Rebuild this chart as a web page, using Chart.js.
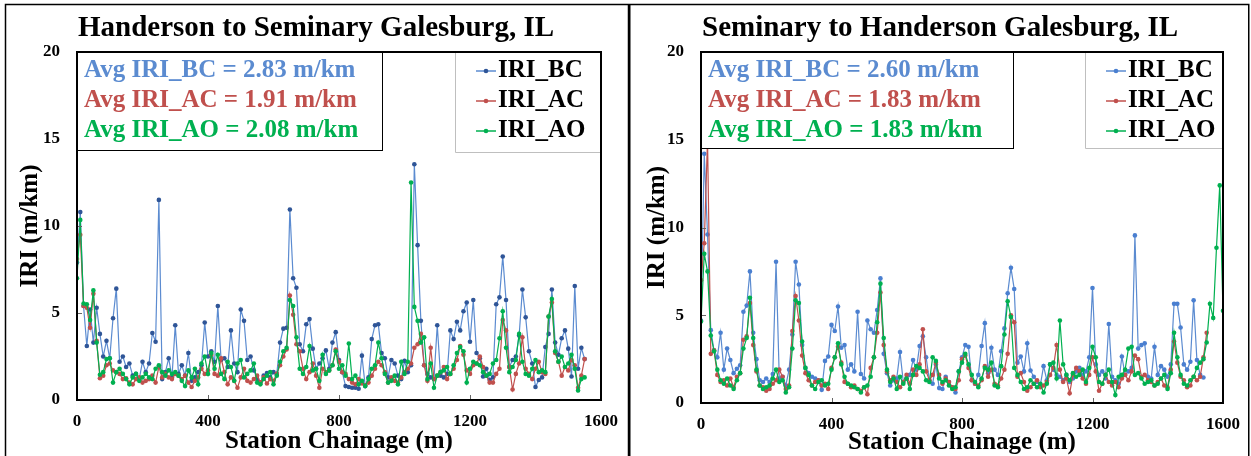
<!DOCTYPE html>
<html lang="en">
<head>
<meta charset="UTF-8">
<title>IRI Galesburg</title>
<script src="https://cdn.jsdelivr.net/npm/chart.js"></script>
<style>
  body { margin: 0; background: #fff; }
  .panel { position: absolute; top: 0; }
</style>
</head>
<body>
<div class="panel" style="left:0"><canvas id="chartA" width="629" height="456"></canvas></div>
<div class="panel" style="left:629px"><canvas id="chartB" width="622" height="456"></canvas></div>
<script>
// station chainage (m)
const chainage = [
  0, 10, 20, 30, 40, 50, 60, 70, 80, 90,
  100, 110, 120, 130, 140, 150, 160, 170, 180, 190,
  200, 210, 220, 230, 240, 250, 260, 270, 280, 290,
  300, 310, 320, 330, 340, 350, 360, 370, 380, 390,
  400, 410, 420, 430, 440, 450, 460, 470, 480, 490,
  500, 510, 520, 530, 540, 550, 560, 570, 580, 590,
  600, 610, 620, 630, 640, 650, 660, 670, 680, 690,
  700, 710, 720, 730, 740, 750, 760, 770, 780, 790,
  800, 810, 820, 830, 840, 850, 860, 870, 880, 890,
  900, 910, 920, 930, 940, 950, 960, 970, 980, 990,
  1000, 1010, 1020, 1030, 1040, 1050, 1060, 1070, 1080, 1090,
  1100, 1110, 1120, 1130, 1140, 1150, 1160, 1170, 1180, 1190,
  1200, 1210, 1220, 1230, 1240, 1250, 1260, 1270, 1280, 1290,
  1300, 1310, 1320, 1330, 1340, 1350, 1360, 1370, 1380, 1390,
  1400, 1410, 1420, 1430, 1440, 1450, 1460, 1470, 1480, 1490,
  1500, 1510, 1520, 1530, 1540, 1550, 1560, 1570, 1580, 1590,
  1600
];

// Handerson to Seminary
const hsBC = [
  7.9, 10.8, 5.4, 3.1, 5.2, 3.3, 5.3, 3.8, 2.5, 3.4,
  2.4, 4.7, 6.4, 2.2, 2.5, 1.9, 2.1, 1.4, 1.5, 1.2,
  2.2, 1.6, 2.1, 3.85, 3.35, 11.5, 1.2, 1.6, 2.4, 1.3,
  4.3, 1.5, 2.0, 1.4, 2.7, 1.1, 1.3, 1.6, 2.0, 4.45,
  2.5, 2.8, 2.2, 5.4, 2.3, 2.4, 1.9, 4.0, 2.1, 1.6,
  5.2, 4.55, 2.3, 2.5, 1.7, 1.2, 1.0, 1.4, 1.55, 1.3,
  1.6, 1.5, 3.3, 4.1, 4.15, 10.95, 7.0, 6.45, 3.2, 2.8,
  4.35, 4.65, 2.95, 1.8, 2.1, 2.4, 2.85, 1.8, 3.3, 3.9,
  2.3, 1.6, 0.8, 0.75, 0.7, 0.7, 0.65, 2.55, 0.8, 1.3,
  3.5, 4.3, 4.35, 2.7, 2.4, 1.3, 2.3, 2.1, 1.4, 1.2,
  2.25, 1.6, 2.0, 13.55, 8.9, 4.55, 2.0, 1.5, 1.3, 1.2,
  4.3, 1.4, 1.3, 1.5, 4.0, 3.5, 4.5, 4.0, 5.1, 5.6,
  3.35, 5.75, 2.7, 2.4, 1.35, 1.8, 1.15, 1.3, 5.5, 5.9,
  8.25, 5.75, 1.9, 2.3, 2.5, 3.7, 6.35, 4.75, 2.8, 2.1,
  0.75, 1.15, 1.3, 3.05, 3.8, 6.35, 3.3, 2.6, 3.55, 4.0,
  2.95, 1.35, 6.55, 1.8, 3.0, 2.35
];
const hsAC = [
  8.1, 9.5, 5.4, 5.3, 4.15, 6.1, 3.4, 1.25, 1.4, 2.0,
  2.1, 1.7, 1.6, 1.5, 1.2, 1.25, 1.0, 0.9, 1.2, 1.3,
  1.0, 1.1, 1.2, 1.4, 1.0, 1.9, 1.3, 1.5, 1.3, 1.2,
  1.5, 1.4, 1.2, 1.4, 1.0, 0.75, 1.1, 1.3, 1.8, 1.5,
  1.7, 2.6, 1.5, 1.4, 2.4, 1.6, 0.9, 1.3, 1.1, 0.7,
  1.3, 1.8, 1.1, 1.0, 1.2, 1.4, 1.0, 1.3, 0.95, 1.2,
  1.1, 1.5, 2.0, 2.5, 2.9, 6.0, 4.9, 3.2, 2.8, 1.8,
  1.2, 1.6, 2.1, 1.4, 0.7, 1.8, 1.6, 1.7, 2.0, 2.9,
  2.2, 1.6, 1.5, 1.2, 1.0, 0.9, 1.2, 0.95, 0.85, 1.0,
  1.4, 1.8, 2.2, 2.0, 1.6, 1.0, 1.3, 1.1, 1.0, 1.3,
  1.6, 1.8, 2.1, 3.0, 3.2, 3.8, 2.0, 1.1, 3.0, 1.2,
  1.4, 1.6, 1.9, 1.2, 1.5, 1.8, 2.3, 3.1, 2.6, 1.7,
  1.5, 2.0, 2.1, 2.5, 1.9, 1.4, 1.0, 1.0, 1.5, 1.8,
  4.6, 4.0, 1.9, 0.6, 1.5, 2.1, 3.6, 1.8, 1.5, 1.2,
  1.8, 2.2, 1.6, 1.5, 4.8, 5.6, 2.7, 2.2, 1.4, 1.9,
  1.7, 2.3, 2.0, 0.7, 1.4, 2.35
];
const hsAO = [
  7.0, 10.35, 5.55, 5.5, 4.6, 6.3, 3.3, 1.45, 1.6, 2.35,
  2.4, 1.0, 1.6, 1.8, 1.5, 1.2, 0.9, 1.3, 1.5, 1.1,
  1.3, 1.5, 1.3, 1.2, 1.8, 2.0, 1.6, 1.4, 1.7, 1.5,
  1.6, 1.4, 1.1, 0.8, 1.7, 1.3, 1.8, 0.9, 2.1, 2.5,
  1.5, 2.7, 1.8, 2.6, 1.5, 1.2, 2.2, 1.9, 1.1, 2.1,
  2.3, 1.3, 1.5, 1.7, 2.1, 1.0, 0.9, 1.2, 1.4, 1.6,
  0.9, 1.4, 2.2, 2.8, 3.0, 5.75, 5.4, 3.6, 1.8, 1.5,
  1.9, 3.1, 1.7, 1.8, 1.1, 2.6, 1.5, 1.7, 2.0, 2.8,
  1.8, 2.0, 1.4, 3.25, 1.2, 1.4, 0.9, 1.1, 0.8, 1.2,
  1.8, 2.0, 3.3, 2.4, 1.5, 1.0, 1.1, 1.4, 0.9, 2.2,
  1.5, 2.2, 12.5, 5.35, 4.55, 3.3, 3.6, 1.2, 2.1, 0.7,
  1.4, 1.6, 1.7, 1.9, 1.5, 2.0, 2.7, 3.05, 2.8, 1.0,
  1.8, 2.2, 2.1, 2.0, 1.6, 1.4, 1.5, 2.1, 2.3, 3.55,
  5.1, 3.0, 1.6, 1.9, 2.3, 3.8, 2.2, 1.5, 1.4, 1.8,
  2.3, 1.6, 1.7, 1.6, 4.8, 5.8, 2.8, 2.2, 2.5, 1.9,
  2.1, 2.6, 1.8, 0.55, 1.2, 1.3
];

// Seminary to Handerson
const shBC = [
  4.7, 14.2, 9.6, 4.15, 3.0, 2.6, 4.0, 1.9, 3.1, 2.45,
  1.7, 1.95, 2.15, 5.2, 5.55, 7.5, 4.0, 2.5, 1.3, 1.2,
  1.4, 1.2, 1.65, 8.05, 1.4, 1.5, 1.0, 1.9, 3.9, 8.05,
  6.75, 3.3, 2.0, 1.7, 1.5, 1.4, 1.3, 0.75, 2.4, 2.65,
  4.45, 4.1, 5.5, 3.15, 3.3, 1.9, 2.2, 1.8, 5.2, 1.65,
  1.4, 4.7, 4.2, 4.0, 5.3, 7.1, 2.8, 1.7, 1.0, 1.3,
  1.4, 2.9, 1.2, 1.4, 1.6, 2.45, 1.9, 3.25, 3.8, 2.6,
  1.3, 1.1, 2.2, 0.85, 0.8, 1.5, 1.2, 0.9, 0.6, 1.8,
  2.6, 3.3, 3.2, 1.3, 1.1, 1.6, 3.25, 4.55, 1.7, 3.15,
  1.9, 1.6, 2.95, 4.25, 6.25, 7.7, 6.5, 2.3, 2.65, 1.8,
  3.4, 1.85, 1.5, 1.2, 1.0, 2.1, 1.3, 2.2, 1.9, 1.6,
  1.5, 1.3, 1.6, 1.2, 1.4, 1.8, 2.0, 1.6, 1.8, 2.6,
  6.55, 2.2, 1.6, 1.8, 1.4, 4.5, 1.5, 1.3, 1.1, 2.65,
  1.6, 1.8, 2.0, 9.55, 3.1, 3.3, 3.4, 1.5, 1.4, 3.2,
  1.6, 2.1, 1.9, 1.5, 2.2, 5.65, 5.65, 4.3, 2.2, 1.9,
  2.35, 5.85, 2.45, 1.6, 1.45
];
const shAC = [
  7.0, 9.1, 15.0, 2.8, 3.0, 1.6, 1.2, 1.3, 1.0, 1.4,
  0.9, 1.5, 1.7, 3.6, 3.8, 5.7, 3.3, 1.8, 1.0, 0.9,
  0.7, 0.8, 1.1, 1.3, 1.9, 1.5, 0.8, 1.0, 4.1, 6.1,
  4.7, 2.7, 1.7, 1.3, 1.0, 1.2, 1.3, 1.0, 1.1, 0.8,
  2.0, 2.6, 3.2, 2.3, 1.2, 1.1, 0.9, 1.0, 0.8, 0.7,
  0.9, 0.5, 2.0, 2.6, 4.0, 6.3, 3.3, 1.8, 1.3, 1.5,
  1.2, 0.9, 1.2, 1.6, 1.1, 1.9, 1.6, 2.2, 4.2, 1.8,
  1.3, 1.6, 2.3, 1.6, 1.1, 1.4, 1.2, 0.9, 0.8, 1.3,
  2.5, 2.7, 2.0, 1.3, 1.1, 1.0, 1.3, 2.1, 1.5, 1.9,
  1.1, 1.0, 1.4, 1.9, 2.8, 5.0, 4.6, 1.5, 1.7, 1.2,
  0.7, 0.9, 1.1, 1.3, 0.9, 1.0, 1.2, 1.6, 2.0, 3.3,
  1.9, 1.2, 1.4, 0.55, 1.6, 2.0, 1.8, 1.4, 1.1, 1.6,
  2.6, 1.8, 0.7, 1.1, 1.6, 1.2, 1.0, 1.2, 0.9, 1.4,
  1.6, 1.3, 1.8, 2.7, 2.5, 1.5, 1.6, 1.3, 1.2, 1.0,
  1.2, 1.4, 1.0, 0.9, 1.9, 3.5, 2.3, 1.5, 1.3, 0.9,
  1.0, 1.5, 1.3, 1.5, 2.6, 4.0
];
const shAO = [
  4.65, 8.5, 7.5, 3.85, 2.95, 1.9, 1.3, 1.1, 1.4, 1.0,
  0.8, 1.3, 1.7, 3.1, 3.7, 6.0, 3.7, 1.9, 1.0, 0.8,
  0.9, 1.0, 1.4, 1.9, 1.2, 1.3, 0.6, 0.9, 3.1, 5.85,
  5.7, 3.5, 2.0, 1.6, 1.0, 0.8, 1.2, 1.3, 1.0, 1.1,
  1.9, 2.6, 3.4, 2.2, 1.5, 1.1, 1.0, 0.9, 0.8, 0.6,
  0.9, 1.0, 1.5, 2.6, 4.6, 6.8, 3.7, 1.9, 1.2, 1.4,
  0.8, 1.5, 1.1, 1.4, 0.8, 1.6, 2.1, 2.0, 1.8, 1.3,
  1.2, 2.6, 2.4, 1.4, 1.2, 1.3, 1.0, 0.8, 0.9, 1.8,
  2.3, 2.8, 2.2, 1.6, 1.2, 0.9, 1.4, 2.0, 1.9, 2.3,
  1.0, 0.9, 2.1, 3.9, 5.8, 4.9, 2.0, 1.6, 1.2, 0.8,
  0.9, 1.3, 1.1, 0.9, 1.1, 0.6, 1.1, 2.2, 2.3, 1.4,
  4.7, 2.2, 1.6, 1.3, 1.7, 1.5, 1.6, 1.9, 1.2, 2.0,
  3.2, 2.6, 1.2, 1.1, 1.6, 1.9, 1.2, 0.45, 1.5, 1.6,
  1.9, 3.1, 3.2, 1.6, 1.7, 1.4, 1.1, 1.2, 1.3, 1.0,
  1.1, 1.4, 1.6, 0.8, 1.7, 4.0, 2.6, 1.6, 1.1, 1.0,
  1.3, 1.5, 2.0, 2.3, 2.5, 3.45, 5.65, 4.85, 8.85, 12.4,
  5.25
];

const seriesNames = ['IRI_BC', 'IRI_AC', 'IRI_AO'];
const titles = ['Handerson to Seminary Galesburg, IL', 'Seminary to Handerson Galesburg, IL'];
const avgLines = [
  ['Avg IRI_BC = 2.83 m/km', 'Avg IRI_AC = 1.91 m/km', 'Avg IRI_AO = 2.08 m/km'],
  ['Avg IRI_BC = 2.60 m/km', 'Avg IRI_AC = 1.83 m/km', 'Avg IRI_AO = 1.83 m/km']
];
const xTicks = [0, 400, 800, 1200, 1600];
const yTicks = [0, 5, 10, 15, 20];

const lineColors = ['#5b8bd0', '#c0504d', '#00b050'];
const textColors = ['#5b8bd0', '#c0504d', '#00b050'];
const serif = '"Liberation Serif", "Times New Roman", serif';

function toPoints(vals) {
  const pts = [];
  vals.forEach((v, i) => { if (v != null) pts.push({ x: chainage[i], y: v }); });
  return pts;
}

const deco = {
  id: 'deco',
  afterDraw(chart, args, o) {
    const ctx = chart.ctx, a = chart.chartArea;
    ctx.save();
    // panel frame
    ctx.strokeStyle = '#000';
    ctx.lineWidth = 1.5;
    ctx.strokeRect(o.frame[0], o.frame[1], o.frame[2], o.frame[3]);

    // inward ticks
    ctx.strokeStyle = '#666';
    ctx.lineWidth = 1;
    const xs = chart.scales.x, ys = chart.scales.y;
    xTicks.forEach(t => {
      const px = Math.round(xs.getPixelForValue(t)) + 0.5;
      ctx.beginPath(); ctx.moveTo(px, a.bottom); ctx.lineTo(px, a.bottom - 5); ctx.stroke();
    });
    yTicks.forEach(t => {
      const py = Math.round(ys.getPixelForValue(t)) + 0.5;
      ctx.beginPath(); ctx.moveTo(a.left, py); ctx.lineTo(a.left + 5, py); ctx.stroke();
    });

    // title
    ctx.fillStyle = '#000';
    ctx.font = 'bold 29px ' + serif;
    ctx.textBaseline = 'middle';
    ctx.textAlign = 'left';
    ctx.fillText(o.title, a.left + 1, 29);

    // stats box
    const sb = o.statsBox;
    ctx.fillStyle = '#fff';
    ctx.fillRect(a.left, a.top, sb[0] - a.left, sb[1] - a.top);
    ctx.strokeStyle = '#000';
    ctx.lineWidth = 1;
    ctx.strokeRect(a.left + 0.5, a.top + 0.5, sb[0] - a.left, sb[1] - a.top);
    ctx.font = 'bold 25px ' + serif;
    o.avg.forEach((t, i) => {
      ctx.fillStyle = textColors[i];
      ctx.fillText(t, a.left + 7, 71 + i * 30);
    });

    // legend box
    const lb = o.legendBox;
    ctx.fillStyle = '#fff';
    ctx.fillRect(lb[0], a.top, a.right - lb[0], lb[1] - a.top);
    ctx.strokeStyle = '#bfbfbf';
    ctx.beginPath();
    ctx.moveTo(lb[0] + 0.5, a.top); ctx.lineTo(lb[0] + 0.5, lb[1] + 0.5); ctx.lineTo(a.right, lb[1] + 0.5);
    ctx.stroke();
    ctx.font = 'bold 25px ' + serif;
    seriesNames.forEach((n, i) => {
      const y = 71 + i * 30;
      ctx.strokeStyle = lineColors[i];
      ctx.lineWidth = 1.5;
      ctx.beginPath(); ctx.moveTo(lb[0] + 21, y); ctx.lineTo(lb[0] + 41, y); ctx.stroke();
      ctx.fillStyle = i === 0 ? o.bcPoint : lineColors[i];
      ctx.beginPath(); ctx.arc(lb[0] + 31, y, 2.3, 0, Math.PI * 2); ctx.fill();
      ctx.fillStyle = '#000';
      ctx.fillText(n, lb[0] + 43, y);
    });

    // plot border
    ctx.strokeStyle = '#000';
    ctx.lineWidth = 2;
    ctx.strokeRect(a.left, a.top, a.right - a.left, a.bottom - a.top);
    ctx.restore();
  }
};

function makeChart(id, bc, ac, ao, cfg) {
  const mk = (label, vals, i, order, pointColor) => ({
    label: label,
    data: toPoints(vals),
    borderColor: lineColors[i],
    backgroundColor: pointColor,
    pointBackgroundColor: pointColor,
    pointBorderWidth: 0,
    pointRadius: 2.3,
    borderWidth: 1.2,
    order: order
  });
  return new Chart(document.getElementById(id), {
    type: 'line',
    data: {
      datasets: [
        mk(seriesNames[0], bc, 0, 3, cfg.bcPoint),
        mk(seriesNames[1], ac, 1, 2, lineColors[1]),
        mk(seriesNames[2], ao, 2, 1, lineColors[2])
      ]
    },
    options: {
      responsive: false,
      animation: false,
      layout: { padding: { left: 0, right: cfg.padRight, top: 52, bottom: 0 } },
      plugins: {
        legend: { display: false },
        tooltip: { enabled: false },
        deco: cfg
      },
      scales: {
        x: {
          type: 'linear', min: 0, max: 1600,
          afterBuildTicks: s => { s.ticks = xTicks.map(v => ({ value: v })); },
          afterFit: s => { s.height = cfg.xHeight; },
          grid: { display: false, drawTicks: false },
          border: { display: false },
          ticks: {
            color: '#000', padding: 11, font: { family: serif, size: 17, weight: 'bold' },
            callback: v => String(v)
          },
          title: {
            display: true, text: 'Station Chainage (m)', color: '#000',
            font: { family: serif, size: 25, weight: 'bold', lineHeight: 1 },
            padding: { top: 0, bottom: cfg.xTitlePad }
          }
        },
        y: {
          min: 0, max: 20,
          afterBuildTicks: s => { s.ticks = yTicks.map(v => ({ value: v })); },
          afterFit: s => { s.width = cfg.yWidth; },
          grid: { display: false, drawTicks: false },
          border: { display: false },
          ticks: {
            color: '#000', padding: 17, font: { family: serif, size: 17, weight: 'bold' },
            callback: v => String(v)
          },
          title: {
            display: true, text: 'IRI (m/km)', color: '#000',
            font: { family: serif, size: 25, weight: 'bold', lineHeight: 1 },
            padding: { top: cfg.yTitlePad, bottom: 0 }
          }
        }
      }
    },
    plugins: [deco]
  });
}

makeChart('chartA', hsBC, hsAC, hsAO, {
  title: titles[0], avg: avgLines[0],
  frame: [5.5, 4.5, 623, 470],
  statsBox: [382, 150], legendBox: [455, 152],
  padRight: 23, xHeight: 56, yWidth: 77, xTitlePad: 2, yTitlePad: 18,
  bcPoint: '#2f5597'
});
makeChart('chartB', shBC, shAC, shAO, {
  title: titles[1], avg: avgLines[1],
  frame: [0.75, 4.5, 619, 470],
  statsBox: [384, 148], legendBox: [456, 148],
  padRight: 21, xHeight: 53, yWidth: 72, xTitlePad: 1, yTitlePad: 16,
  bcPoint: '#4a7fd0'
});
</script>
</body>
</html>
